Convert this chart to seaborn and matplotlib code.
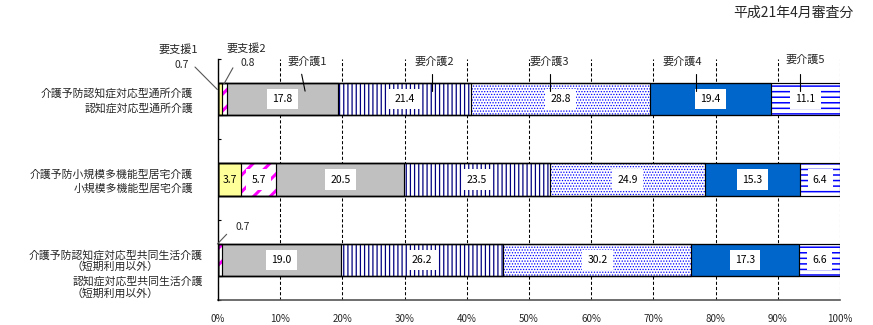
import numpy as np
import pandas as pd
import matplotlib
matplotlib.use("Agg")
import matplotlib.pyplot as plt
import seaborn as sns

# ---------------- data ----------------
categories = ["認知症対応型通所介護", "小規模多機能型居宅介護", "認知症対応型共同生活介護"]
series_names = ["要支援1", "要支援2", "要介護1", "要介護2", "要介護3", "要介護4", "要介護5"]
shien1 = [0.7, 3.7, 0.0]
shien2 = [0.8, 5.7, 0.7]
kaigo1 = [17.8, 20.5, 19.0]
kaigo2 = [21.4, 23.5, 26.2]
kaigo3 = [28.8, 24.9, 30.2]
kaigo4 = [19.4, 15.3, 17.3]
kaigo5 = [11.1, 6.4, 6.6]
x_ticks = [0, 10, 20, 30, 40, 50, 60, 70, 80, 90, 100]
x_tick_labels = ["0%", "10%", "20%", "30%", "40%", "50%", "60%", "70%", "80%", "90%", "100%"]
title_text = "平成21年4月審査分"
row_label_lines = [
    ["介護予防認知症対応型通所介護", "認知症対応型通所介護"],
    ["介護予防小規模多機能型居宅介護", "小規模多機能型居宅介護"],
    ["介護予防認知症対応型共同生活介護", "（短期利用以外）", "認知症対応型共同生活介護", "（短期利用以外）"],
]

series_values = [shien1, shien2, kaigo1, kaigo2, kaigo3, kaigo4, kaigo5]
df = pd.DataFrame({"category": categories})
for name, vals in zip(series_names, series_values):
    df[name] = vals
cum = df[series_names].cumsum(axis=1)

# ---------------- style ----------------
sns.set_theme(style="white")
plt.rcParams["font.family"] = ["Noto Sans CJK JP", "DejaVu Sans"]

styles = [
    dict(face="#FFFF99", hatch=None, hc="none", hlw=1.0),
    dict(face="white", hatch="//", hc="#FF00FF", hlw=2.2),
    dict(face="#C0C0C0", hatch=None, hc="none", hlw=1.0),
    dict(face="white", hatch="||||", hc="#000080", hlw=0.9),
    dict(face="white", hatch="......", hc="#0000FF", hlw=0.6),
    dict(face="#0066CC", hatch=None, hc="none", hlw=1.0),
    dict(face="white", hatch="---", hc="#0000FF", hlw=1.1),
]

W, H = 873, 325
fig = plt.figure(figsize=(W / 100, H / 100), dpi=100)
ax = fig.add_axes([218 / W, 1 - 300 / H, (840 - 218) / W, (300 - 59) / H])

# fills (back to front: largest cumulative first)
for k in range(len(series_names) - 1, -1, -1):
    st = styles[k]
    plt.rcParams["hatch.linewidth"] = st["hlw"]
    n0 = len(ax.patches)
    sns.barplot(data=df, x=cum[series_names[k]], y="category", orient="h", ax=ax,
                color=st["face"], saturation=1, width=0.4, errorbar=None,
                edgecolor=st["hc"], linewidth=0, hatch=st["hatch"])
    for p in ax.patches[n0:]:
        p.set_zorder(2)
        if hasattr(p, "set_hatch_linewidth"):
            p.set_hatch_linewidth(st["hlw"])
plt.rcParams["hatch.linewidth"] = 1.0

# outlines
for k in range(len(series_names)):
    n0 = len(ax.patches)
    sns.barplot(data=df, x=cum[series_names[k]], y="category", orient="h", ax=ax,
                fill=False, color="black", width=0.4, errorbar=None, linewidth=0.85)
    for p in ax.patches[n0:]:
        p.set_zorder(3)
        p.set_edgecolor("black")
        p.set_linewidth(0.85)
        p.set_facecolor("none")

# axes cosmetics
ax.set_xlim(0, 100)
ax.set_ylim(2.5, -0.5)
ax.set_xticks(x_ticks)
ax.set_xticklabels(x_tick_labels, fontsize=7)
ax.tick_params(axis="x", length=0, pad=10)
ax.set_yticks([-0.5, 0.5, 1.5, 2.5])
ax.set_yticklabels([])
ax.tick_params(axis="y", direction="in", length=2.5, width=0.8, color="black", left=True)
ax.set_xlabel("")
ax.set_ylabel("")
ax.xaxis.grid(True, linestyle=(0, (3, 2)), color="black", linewidth=0.75)
ax.yaxis.grid(False)
ax.set_axisbelow(True)
for s in ["top", "right"]:
    ax.spines[s].set_visible(False)
ax.spines["left"].set_color("black")
ax.spines["left"].set_linewidth(1.0)
ax.spines["bottom"].set_color("#555555")
ax.spines["bottom"].set_linewidth(1.2)
ax.spines["left"].set_zorder(4)

# value labels inside segments
for i in range(len(categories)):
    start = 0.0
    for k, vals in enumerate(series_values):
        v = vals[i]
        center = start + v / 2
        start += v
        if v < 1.5:
            continue
        box = None if v < 5 else dict(boxstyle="square,pad=0.5", fc="white", ec="none")
        ax.text(center, i, f"{v:.1f}", ha="center", va="center", fontsize=7.5,
                color="black", zorder=6, bbox=box)

# series name annotations (row 1) and small values with leaders
def leader(x0, y0, x1, y1, color="black"):
    ax.plot([x0, x1], [y0, y1], color=color, lw=0.8, zorder=7, clip_on=False)

ann_fs = 8
ax.text(-6.4, -0.612, series_names[0], ha="center", va="center", fontsize=ann_fs, clip_on=False)
ax.text(-5.9, -0.43, f"{shien1[0]:.1f}", ha="center", va="center", fontsize=7.5, clip_on=False)
leader(-3.7, -0.40, -0.1, -0.12, color="#555555")

ax.text(4.5, -0.633, series_names[1], ha="center", va="center", fontsize=ann_fs, clip_on=False)
ax.text(4.74, -0.446, f"{shien2[0]:.1f}", ha="center", va="center", fontsize=7.5, clip_on=False)
leader(2.4, -0.39, 0.96, -0.19, color="#555555")

for name, lx, ly, tx in [(series_names[2], 14.4, -0.466, (13.45, 14.0)),
                         (series_names[3], 34.8, -0.463, (34.45, 34.45)),
                         (series_names[4], 53.2, -0.463, (53.3, 53.3)),
                         (series_names[5], 74.7, -0.463, (76.9, 76.9)),
                         (series_names[6], 94.4, -0.495, (93.5, 93.5))]:
    ax.text(lx, ly, name, ha="center", va="center", fontsize=ann_fs, zorder=8,
            clip_on=False)
    leader(tx[0], -0.31, tx[1], -0.10)

ax.text(4.0, 1.595, f"{shien2[2]:.1f}", ha="center", va="center", fontsize=7.5)
leader(1.39, 1.682, -0.1, 1.803, color="#555555")

# category labels
cat_fs = 7.8
def ftext(px, py, s, ha):
    fig.text(px / W, 1 - py / H, s, ha=ha, va="center", fontsize=cat_fs)

ftext(193, 93.3, row_label_lines[0][0], "right")
ftext(193, 108.3, row_label_lines[0][1], "right")
ftext(193, 175, row_label_lines[1][0], "right")
ftext(193, 188.3, row_label_lines[1][1], "right")
ftext(203, 255, row_label_lines[2][0], "right")
ftext(115, 266.7, row_label_lines[2][1], "center")
ftext(203, 281.7, row_label_lines[2][2], "right")
ftext(115, 293.3, row_label_lines[2][3], "center")

fig.text(853 / W, 1 - 13 / H, title_text, ha="right", va="center", fontsize=10)

fig.savefig("out.png", dpi=100, facecolor="white")
